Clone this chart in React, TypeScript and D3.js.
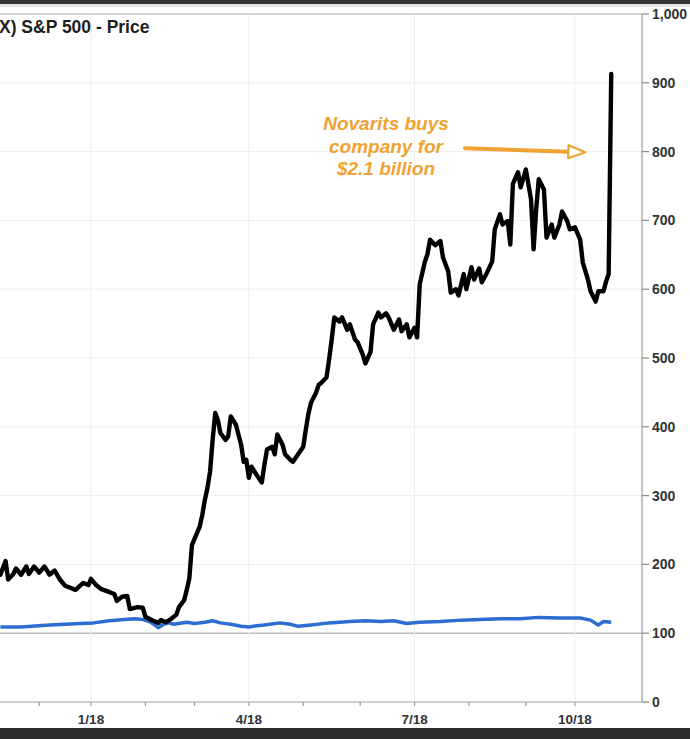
import React, { useEffect } from "react";
import * as d3 from "d3";

// x values are trading-day numbers counted from 2 Jan 2018 (day 0)
const stockDays = [
  -35, -34, -33, -32, -30, -29, -27, -25, -24, -22, -20, -18, -16, -14, -12, -10, -8, -6, -3, -1,
  0, 2, 4, 7, 9, 10, 12, 14, 15, 18, 20, 21, 24, 26, 27, 29, 31, 33, 34, 36, 37, 38, 39, 41, 42,
  43, 44, 45, 46, 47, 48, 49, 50, 52, 53, 54, 56, 58, 59, 60, 61, 62, 64, 66, 67, 68, 70, 71, 72,
  74, 75, 77, 78, 80, 82, 83, 84, 85, 87, 88, 89, 91, 92, 93, 94, 96, 97, 99, 100, 102, 103, 105,
  106, 108, 109, 111, 112, 114, 115, 117, 119, 120, 122, 123, 125, 126, 127, 129, 130, 131, 133,
  135, 136, 138, 139, 141, 142, 144, 145, 147, 148, 150, 151, 153, 155, 156, 158, 159, 161, 162,
  163, 165, 166, 168, 170, 171, 172, 173, 175, 176, 178, 179, 181, 182, 184, 185, 187, 189, 190,
  192, 193, 195, 196, 198, 199, 200, 201,
];
const stockValues = [
  185, 195, 205, 178, 186, 194, 185, 197, 186, 197, 188, 197, 185, 191, 178, 169, 166, 163, 173, 170,
  179, 170, 164, 160, 157, 147, 153, 154, 135, 138, 137, 124, 118, 115, 119, 116, 121, 127, 138, 148,
  163, 180, 228, 246, 255, 272, 294, 311, 335, 381, 420, 410, 391, 381, 386, 415, 403, 374, 349, 352,
  326, 342, 330, 319, 345, 367, 371, 360, 389, 374, 360, 352, 349, 360, 371, 396, 419, 435, 450, 461,
  464, 472, 498, 527, 559, 553, 559, 541, 549, 527, 523, 505, 492, 509, 549, 566, 559, 565, 559, 541,
  556, 539, 549, 530, 544, 530, 607, 640, 651, 672, 664, 670, 646, 626, 595, 600, 591, 622, 600, 632,
  614, 630, 610, 624, 640, 687, 709, 694, 699, 665, 753, 770, 748, 774, 731, 658, 716, 760, 745, 675,
  694, 675, 694, 713, 699, 687, 690, 672, 639, 614, 597, 582, 597, 597, 611, 622, 913,
];

const indexDays = [
  -35, -27, -16, -4, 1, 7, 13, 17, 20, 23, 26, 28, 30, 32, 37, 40, 44, 47, 50, 54, 58, 61, 64, 67,
  73, 77, 80, 85, 92, 100, 106, 112, 117, 122, 127, 135, 143, 150, 158, 166, 173, 181, 189, 193, 196,
  198, 201,
];
const indexValues = [
  109, 109, 112, 114, 115, 118, 120, 121, 120, 116, 108, 113, 115, 113, 116, 114, 116, 118, 115, 113,
  110, 109, 111, 112, 115, 113, 110, 112, 115, 117, 118, 117, 118, 114, 116, 117, 119, 120, 121, 121,
  123, 122, 122, 119, 112, 117, 116,
];

const monthTickDays = [-20, 0, 21, 40, 61, 82, 104, 125, 146, 168, 187];
const quarterDays = [0, 61, 125, 187];
const quarterLabels = ["1/18", "4/18", "7/18", "10/18"];
const yTicks = [0, 100, 200, 300, 400, 500, 600, 700, 800, 900, 1000];

const title = "X) S&P 500 - Price";
const noteLines = ["Novarits buys", "company for", "$2.1 billion"];

const W = 690;
const H = 739;
const AXIS_X = 642;
const PLOT_TOP = 14;
const PLOT_BOTTOM = 702;
const FONT = "Arial, 'Liberation Sans', Helvetica, sans-serif";
const ORANGE = "#f0a232";

export default function App() {
  useEffect(() => {
    document.body.style.margin = "0";
    document.body.style.background = "#ffffff";
  }, []);

  const x = d3.scaleLinear().domain([0, 187]).range([91, 575]);
  const y = d3.scaleLinear().domain([0, 1000]).range([PLOT_BOTTOM, PLOT_TOP]);

  const stock = stockDays.map((d, i) => [d, stockValues[i]] as [number, number]);
  const idx = indexDays.map((d, i) => [d, indexValues[i]] as [number, number]);
  const line = d3
    .line<[number, number]>()
    .x((d) => x(d[0]))
    .y((d) => y(d[1]));

  const fmt = d3.format(",");

  // annotation arrow geometry, in data space
  const arrowStartDay = 144.5;
  const arrowEndDay = 191;
  const arrowStartVal = 805;
  const arrowEndVal = 799;
  const ax0 = x(arrowStartDay);
  const ay0 = y(arrowStartVal);
  const ax1 = x(arrowEndDay);
  const ay1 = y(arrowEndVal);
  const ang = Math.atan2(ay1 - ay0, ax1 - ax0);
  const headLen = 17;
  const headHalf = 6.5;
  const bx = ax1 - headLen * Math.cos(ang);
  const by = ay1 - headLen * Math.sin(ang);
  const px = -Math.sin(ang);
  const py = Math.cos(ang);
  const headPts = [
    [ax1, ay1],
    [bx + px * headHalf, by + py * headHalf],
    [bx - px * headHalf, by - py * headHalf],
  ]
    .map((p) => p.join(","))
    .join(" ");

  return (
    <svg width={W} height={H} style={{ display: "block" }} fontFamily={FONT}>
      <defs>
        <clipPath id="plotclip">
          <rect x={0} y={0} width={AXIS_X} height={PLOT_BOTTOM} />
        </clipPath>
      </defs>
      <rect x={0} y={0} width={W} height={H} fill="#ffffff" />
      {/* top frame */}
      <rect x={0} y={0} width={W} height={4} fill="#353535" />
      <rect x={0} y={4} width={W} height={3} fill="#e4e4e4" />

      {/* horizontal grid */}
      {yTicks.map((t) => (
        <line
          key={"g" + t}
          x1={0}
          x2={AXIS_X}
          y1={y(t)}
          y2={y(t)}
          stroke={t === 100 ? "#bdbdbd" : t === 1000 ? "#c4c4c4" : "#eeeeee"}
          strokeWidth={t === 100 || t === 1000 ? 1.5 : 1}
        />
      ))}
      {/* vertical grid */}
      {quarterDays.map((d) => (
        <line key={"v" + d} x1={x(d)} x2={x(d)} y1={PLOT_TOP} y2={PLOT_BOTTOM} stroke="#eeeeee" />
      ))}

      {/* axes */}
      <line x1={AXIS_X} x2={AXIS_X} y1={PLOT_TOP} y2={PLOT_BOTTOM} stroke="#9a9a9a" strokeWidth={1.2} />
      <line x1={0} x2={AXIS_X} y1={PLOT_BOTTOM} y2={PLOT_BOTTOM} stroke="#a8a8a8" strokeWidth={1.2} />
      {yTicks.map((t) => (
        <g key={"yt" + t}>
          <line x1={AXIS_X} x2={AXIS_X + 7} y1={y(t)} y2={y(t)} stroke="#8a8a8a" strokeWidth={1.2} />
          <text
            x={AXIS_X + 10}
            y={y(t)}
            dy="0.35em"
            fontSize={14}
            fontWeight="bold"
            fill="#2e3338"
          >
            {fmt(t)}
          </text>
        </g>
      ))}
      {monthTickDays.map((d) => (
        <line
          key={"mt" + d}
          x1={x(d)}
          x2={x(d)}
          y1={PLOT_BOTTOM}
          y2={PLOT_BOTTOM + 4}
          stroke="#9a9a9a"
          strokeWidth={1.2}
        />
      ))}
      {quarterDays.map((d, i) => (
        <text
          key={"ql" + d}
          x={x(d)}
          y={724}
          textAnchor="middle"
          fontSize={13.5}
          fontWeight="bold"
          fill="#2e3338"
        >
          {quarterLabels[i]}
        </text>
      ))}

      {/* series */}
      <g clipPath="url(#plotclip)">
        <path d={line(idx) || ""} fill="none" stroke="#2c6dd2" strokeWidth={3.5} strokeLinejoin="round" />
        <path
          d={line(stock) || ""}
          fill="none"
          stroke="#000000"
          strokeWidth={4.4}
          strokeLinejoin="round"
          strokeLinecap="round"
        />
      </g>

      {/* title */}
      <text x={-1} y={33} fontSize={17.5} fontWeight="bold" fill="#1e1e1e">
        {title}
      </text>

      {/* annotation */}
      {noteLines.map((l, i) => (
        <text
          key={"n" + i}
          x={386}
          y={130 + i * 22.5}
          textAnchor="middle"
          fontSize={19}
          fontWeight="bold"
          fontStyle="italic"
          fill={ORANGE}
        >
          {l}
        </text>
      ))}
      <line x1={ax0} y1={ay0} x2={bx} y2={by} stroke={ORANGE} strokeWidth={4} strokeLinecap="round" />
      <polygon points={headPts} fill="#ffffff" stroke={ORANGE} strokeWidth={2.2} strokeLinejoin="round" />

      {/* bottom frame */}
      <rect x={0} y={728} width={W} height={H - 728} fill="#2e2e2e" />
    </svg>
  );
}
